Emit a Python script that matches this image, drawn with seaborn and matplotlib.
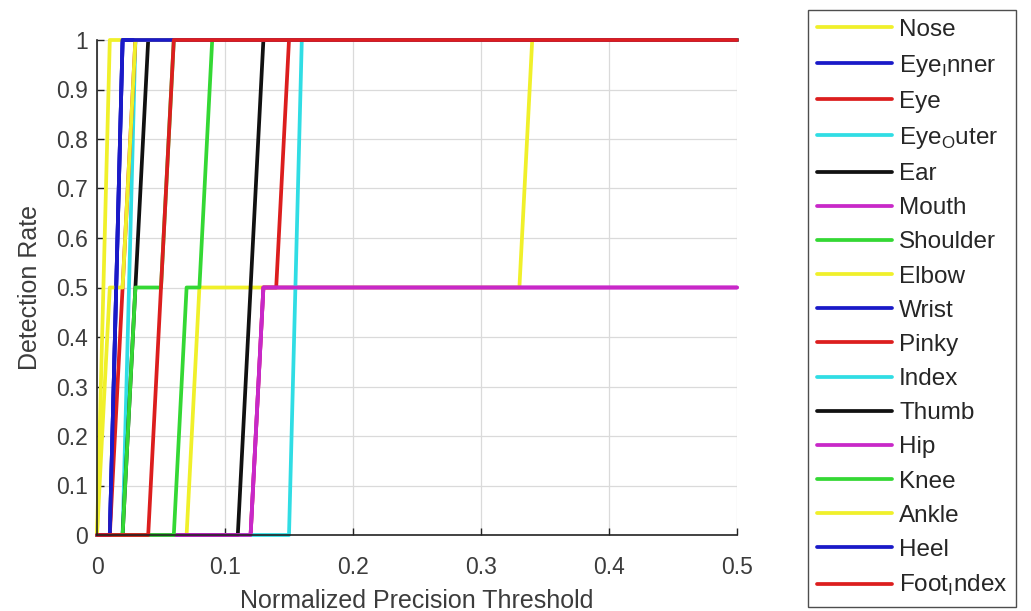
import numpy as np
import pandas as pd
import seaborn as sns
import matplotlib.pyplot as plt

# thresholds / detection rates (breakpoints of each curve)
nose_x = [0, 0.07, 0.08, 0.33, 0.34, 0.5]
nose_y = [0, 0, 0.5, 0.5, 1, 1]
eye_inner_x = [0, 0.01, 0.02, 0.5]
eye_inner_y = [0, 0, 1, 1]
eye_x = [0, 0.12, 0.13, 0.14, 0.15, 0.5]
eye_y = [0, 0, 0.5, 0.5, 1, 1]
eye_outer_x = [0, 0.02, 0.03, 0.5]
eye_outer_y = [0, 0, 1, 1]
ear_x = [0, 0.02, 0.03, 0.04, 0.5]
ear_y = [0, 0, 0.5, 1, 1]
mouth_x = [0, 0.12, 0.13, 0.5]
mouth_y = [0, 0, 0.5, 0.5]
shoulder_x = [0, 0.02, 0.03, 0.05, 0.06, 0.5]
shoulder_y = [0, 0, 0.5, 0.5, 1, 1]
elbow_x = [0, 0.01, 0.5]
elbow_y = [0, 1, 1]
wrist_x = [0, 0.01, 0.02, 0.5]
wrist_y = [0, 0, 1, 1]
pinky_x = [0, 0.01, 0.02, 0.03, 0.5]
pinky_y = [0, 0, 0.5, 1, 1]
index_x = [0, 0.15, 0.16, 0.5]
index_y = [0, 0, 1, 1]
thumb_x = [0, 0.11, 0.12, 0.13, 0.5]
thumb_y = [0, 0, 0.5, 1, 1]
hip_x = [0, 0.12, 0.13, 0.5]
hip_y = [0, 0, 0.5, 0.5]
knee_x = [0, 0.06, 0.07, 0.08, 0.09, 0.5]
knee_y = [0, 0, 0.5, 0.5, 1, 1]
ankle_x = [0, 0.01, 0.02, 0.03, 0.5]
ankle_y = [0, 0.5, 0.5, 1, 1]
heel_x = [0, 0.01, 0.02, 0.5]
heel_y = [0, 0, 1, 1]
foot_index_x = [0, 0.04, 0.05, 0.06, 0.5]
foot_index_y = [0, 0, 0.5, 1, 1]

labels = ['Nose', r'Eye$_\mathregular{I}$nner', 'Eye', r'Eye$_\mathregular{O}$uter', 'Ear',
          'Mouth', 'Shoulder', 'Elbow', 'Wrist', 'Pinky', 'Index', 'Thumb', 'Hip',
          'Knee', 'Ankle', 'Heel', r'Foot$_\mathregular{I}$ndex']
xs = [nose_x, eye_inner_x, eye_x, eye_outer_x, ear_x, mouth_x, shoulder_x, elbow_x,
      wrist_x, pinky_x, index_x, thumb_x, hip_x, knee_x, ankle_x, heel_x, foot_index_x]
ys = [nose_y, eye_inner_y, eye_y, eye_outer_y, ear_y, mouth_y, shoulder_y, elbow_y,
      wrist_y, pinky_y, index_y, thumb_y, hip_y, knee_y, ankle_y, heel_y, foot_index_y]

# matlab-ish cycle: y b r c k m g
colors = ['#f0f02a', '#1a1ac8', '#dc1e1e', '#30dde4', '#111111', '#c828c8', '#34d834'] * 3
colors = colors[:len(labels)]

rows = []
for lab, x, y in zip(labels, xs, ys):
    for a, b in zip(x, y):
        rows.append((lab, a, b))
df = pd.DataFrame(rows, columns=['keypoint', 'threshold', 'rate'])

sns.set_style('whitegrid', {'grid.color': '#dadada', 'axes.edgecolor': '#222222'})
plt.rcParams['font.family'] = ['Liberation Sans', 'DejaVu Sans']
plt.rcParams['mathtext.fontset'] = 'custom'
plt.rcParams['mathtext.rm'] = 'Liberation Sans'

fig = plt.figure(figsize=(10.31, 6.11), dpi=100)
ax = fig.add_axes([97 / 1031, 76 / 611, 640 / 1031, 495 / 611])

sns.lineplot(data=df, x='threshold', y='rate', hue='keypoint', hue_order=labels,
             palette=colors, sort=False, estimator=None, units='keypoint',
             linewidth=2.7, ax=ax)
for ln in ax.lines:
    ln.set_clip_on(False)

handles, labs = ax.get_legend_handles_labels()
ax.get_legend().remove()
for h in handles:
    h.set_linewidth(2.7)

ax.set_xlim(0, 0.5)
ax.set_ylim(0, 1)
ax.set_xticks(np.arange(0, 0.51, 0.1))
ax.set_xticklabels(['0', '0.1', '0.2', '0.3', '0.4', '0.5'])
ax.set_yticks(np.arange(0, 1.01, 0.1))
ax.set_yticklabels(['0', '0.1', '0.2', '0.3', '0.4', '0.5', '0.6', '0.7', '0.8', '0.9', '1'])
ax.tick_params(direction='in', length=5, width=1, colors='#222222', labelcolor='#3c3c3c',
               labelsize=16.5, left=True, bottom=True)
ax.tick_params(axis='x', pad=15)
ax.tick_params(axis='y', pad=6.5)
ax.grid(True, linewidth=0.9)
for s in ['top', 'right']:
    ax.spines[s].set_visible(False)
for s in ['left', 'bottom']:
    ax.spines[s].set_linewidth(1.2)

ax.set_xlabel('Normalized Precision Threshold', fontsize=18, color='#3c3c3c', labelpad=7)
ax.set_ylabel('Detection Rate', fontsize=18, color='#3c3c3c', labelpad=10)

leg = fig.legend(handles, labs, loc='upper left', bbox_to_anchor=(808 / 1031, 1 - 10 / 611),
                 bbox_transform=fig.transFigure, borderaxespad=0, fontsize=17.5,
                 handlelength=3.1, handletextpad=0.3, labelspacing=0.5,
                 borderpad=0.35, frameon=True, fancybox=False)
leg.get_frame().set_edgecolor('#222222')
leg.get_frame().set_linewidth(1.0)

fig.savefig('out.png', dpi=100)
